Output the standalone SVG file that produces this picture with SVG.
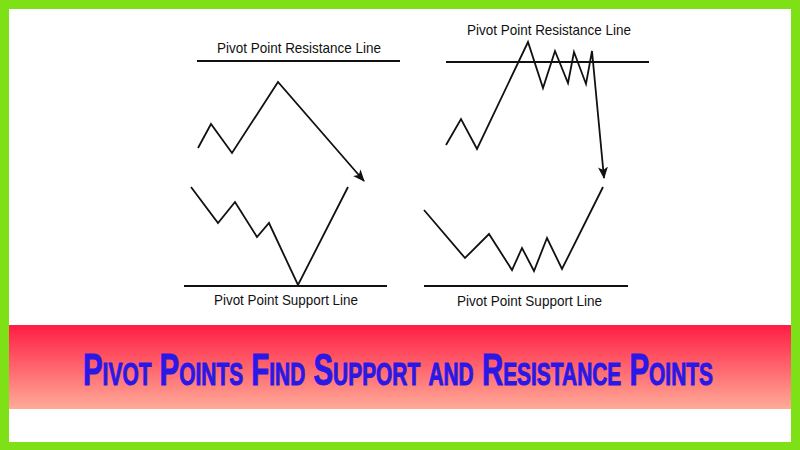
<svg xmlns="http://www.w3.org/2000/svg" width="800" height="450" viewBox="0 0 800 450">
<defs>
<linearGradient id="bannerGrad" x1="0" y1="0" x2="0" y2="1">
<stop offset="0" stop-color="#ff1d44"/>
<stop offset="1" stop-color="#ffab97"/>
</linearGradient>
<marker id="arrow" viewBox="0 0 12 10" refX="11" refY="5" markerWidth="12" markerHeight="10" markerUnits="userSpaceOnUse" orient="auto">
<path d="M0,0 L12,5 L0,10 L3,5 Z" fill="#111"/>
</marker>
</defs>
<style>
.lbl{font-family:"Liberation Sans",Arial,sans-serif;font-size:15px;fill:#111;}
.ln{stroke:#111;stroke-width:2;fill:none;}
.zz{stroke:#111;stroke-width:1.8;fill:none;stroke-linejoin:miter;}
.title{font-family:"Liberation Sans",Arial,sans-serif;font-weight:bold;font-size:45px;font-variant:small-caps;fill:#2a18e6;stroke:#2a18e6;stroke-width:1;}
</style>
<rect x="0" y="0" width="800" height="450" fill="#7ee118"/>
<rect x="9" y="9" width="782" height="433" fill="#ffffff"/>
<g id="banner">
<rect x="9" y="325" width="782" height="84" fill="url(#bannerGrad)"/>
<text class="title" x="83" y="385" textLength="630" lengthAdjust="spacingAndGlyphs">Pivot Points Find Support and Resistance Points</text>
</g>
<g id="left-resistance">
<line class="ln" x1="197" y1="61" x2="400" y2="61"/>
<text class="lbl" x="217" y="53" textLength="164" lengthAdjust="spacingAndGlyphs">Pivot Point Resistance Line</text>
</g>
<g id="left-support">
<line class="ln" x1="184" y1="286" x2="387" y2="286"/>
<text class="lbl" x="214" y="305" textLength="144" lengthAdjust="spacingAndGlyphs">Pivot Point Support Line</text>
</g>
<g id="right-resistance">
<line class="ln" x1="446" y1="62" x2="649" y2="62"/>
<text class="lbl" x="467" y="35" textLength="164" lengthAdjust="spacingAndGlyphs">Pivot Point Resistance Line</text>
</g>
<g id="right-support">
<line class="ln" x1="424" y1="286" x2="628" y2="286"/>
<text class="lbl" x="457" y="306" textLength="145" lengthAdjust="spacingAndGlyphs">Pivot Point Support Line</text>
</g>
<g id="connectors">
<polyline class="zz" points="198,148 211,124 232,153 278,82 364,181" marker-end="url(#arrow)"/>
<polyline class="zz" points="191,187 218,223 235,202 257,237 269,223 298,285 348,187"/>
<polyline class="zz" points="446,145 461,119 477,149 528,42 543,88 555,51 568,83 574,52 586,84 592,51 604,178" marker-end="url(#arrow)"/>
<polyline class="zz" points="424,210 465,258 489,234 512,270 522,248 534,271 547,238 562,269 603,187"/>
</g>
</svg>
